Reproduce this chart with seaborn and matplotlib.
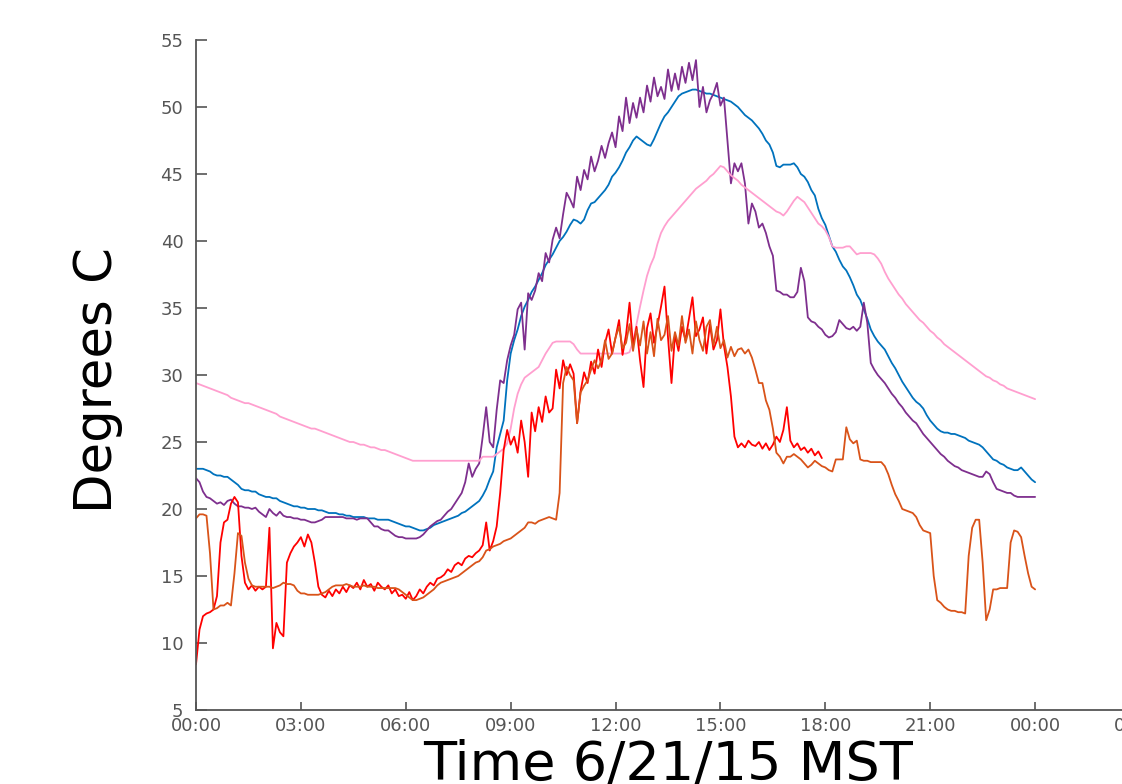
import pandas as pd
import matplotlib
matplotlib.use("Agg")
import matplotlib.pyplot as plt
import seaborn as sns

# readings every 6 minutes (0.1 h), starting at 00:00 on 6/21/15
step_h = 0.1

blue_temp = [
    23.0, 23.0, 23.0, 22.9, 22.8, 22.6, 22.5, 22.5, 22.4, 22.4,
    22.2, 22.0, 21.8, 21.5, 21.4, 21.4, 21.3, 21.3, 21.1, 21.0,
    20.9, 20.9, 20.8, 20.8, 20.6, 20.5, 20.4, 20.3, 20.2, 20.2,
    20.1, 20.1, 20.0, 20.0, 20.0, 19.9, 19.9, 19.8, 19.7, 19.7,
    19.7, 19.6, 19.6, 19.5, 19.5, 19.4, 19.4, 19.4, 19.4, 19.3,
    19.3, 19.3, 19.2, 19.2, 19.2, 19.2, 19.1, 19.0, 18.9, 18.8,
    18.7, 18.7, 18.6, 18.5, 18.4, 18.4, 18.5, 18.6, 18.8, 18.9,
    19.0, 19.1, 19.2, 19.3, 19.4, 19.5, 19.7, 19.8, 20.0, 20.2,
    20.4, 20.6, 21.0, 21.5, 22.2, 22.8, 24.6, 25.6, 26.6, 29.6,
    31.6, 32.6, 33.4, 34.4, 35.1, 35.6, 36.2, 36.6, 37.1, 37.6,
    38.2, 38.6, 39.0, 39.5, 40.0, 40.3, 40.7, 41.2, 41.6, 41.5,
    41.3, 41.6, 42.3, 42.8, 42.9, 43.2, 43.5, 43.8, 44.2, 44.8,
    45.1, 45.5, 46.0, 46.6, 47.0, 47.5, 47.8, 47.6, 47.4, 47.2,
    47.1, 47.6, 48.2, 48.8, 49.3, 49.6, 50.0, 50.4, 50.8, 51.0,
    51.1, 51.2, 51.3, 51.3, 51.2, 51.1, 51.0, 51.0, 50.9, 50.8,
    50.7, 50.6, 50.5, 50.4, 50.2, 50.0, 49.7, 49.4, 49.2, 49.0,
    48.7, 48.4, 48.0, 47.5, 47.2, 46.6, 45.6, 45.5, 45.7, 45.7,
    45.7, 45.8, 45.5, 45.0, 44.8, 44.4, 43.8, 43.4, 42.4, 41.7,
    41.2, 40.4, 39.6, 39.2, 38.6, 38.1, 37.8, 37.3, 36.7, 36.0,
    35.6, 34.9, 34.2, 33.4, 32.9, 32.5, 32.2, 31.9, 31.4, 30.9,
    30.5, 30.0, 29.5, 29.1, 28.7, 28.3, 28.0, 27.8, 27.5, 27.0,
    26.6, 26.3, 26.0, 25.8, 25.7, 25.7, 25.6, 25.6, 25.5, 25.4,
    25.3, 25.1, 25.0, 24.9, 24.8, 24.6, 24.3, 24.0, 23.7, 23.6,
    23.4, 23.3, 23.1, 23.0, 22.9, 22.9, 23.1, 22.8, 22.5, 22.2,
    22.0,
]

purple_temp = [
    22.3, 22.0, 21.3, 20.9, 20.8, 20.6, 20.4, 20.5, 20.3, 20.6,
    20.7, 20.4, 20.2, 20.2, 20.1, 20.1, 20.0, 20.1, 19.8, 19.6,
    19.4, 20.0, 19.7, 19.5, 19.8, 19.5, 19.4, 19.4, 19.3, 19.3,
    19.2, 19.2, 19.1, 19.0, 19.0, 19.1, 19.2, 19.4, 19.4, 19.4,
    19.4, 19.4, 19.4, 19.3, 19.3, 19.3, 19.2, 19.3, 19.3, 19.3,
    19.0, 18.7, 18.7, 18.5, 18.4, 18.4, 18.2, 18.0, 17.9, 17.9,
    17.8, 17.8, 17.8, 17.8, 17.9, 18.1, 18.4, 18.7, 18.9, 19.1,
    19.2, 19.5, 19.8, 20.0, 20.4, 20.8, 21.2, 22.0, 23.4, 22.4,
    23.0, 23.4, 25.4, 27.6, 25.0, 24.6, 27.4, 29.6, 29.4, 31.1,
    32.2, 33.0, 34.9, 35.4, 31.9, 36.1, 35.6, 36.3, 37.6, 37.0,
    39.1, 38.4, 40.1, 41.0, 40.2, 42.0, 43.6, 43.1, 42.5, 44.8,
    43.8, 45.3, 44.6, 46.3, 45.2, 46.0, 47.1, 46.2, 47.3, 48.1,
    47.0, 49.3, 48.2, 50.7, 48.8, 50.3, 49.2, 50.7, 49.6, 51.6,
    50.4, 52.2, 50.8, 51.5, 50.6, 52.8, 51.2, 52.5, 51.3, 53.0,
    51.8, 53.3, 52.0, 53.5, 50.0, 51.5, 49.6, 50.5, 51.0, 51.8,
    50.1, 50.7, 47.5, 44.3, 45.8, 45.2, 45.8, 44.3, 41.3, 42.8,
    42.2, 41.0, 41.3, 40.6, 39.6, 38.9, 36.3, 36.2, 36.0, 36.0,
    35.8, 35.8, 36.2, 38.0, 37.0, 34.3, 34.0, 33.9, 33.6, 33.4,
    33.0, 32.8, 32.9, 33.2, 34.1, 33.8, 33.5, 33.4, 33.6, 33.3,
    33.6, 35.4, 33.9, 30.9, 30.4, 30.0, 29.7, 29.4, 29.0, 28.6,
    28.3, 27.9, 27.6, 27.2, 26.9, 26.6, 26.4, 26.0, 25.6, 25.3,
    25.0, 24.7, 24.4, 24.1, 23.9, 23.6, 23.4, 23.2, 23.1, 22.9,
    22.8, 22.7, 22.6, 22.5, 22.4, 22.4, 22.8, 22.6, 22.0, 21.5,
    21.4, 21.3, 21.2, 21.2, 21.0, 20.9, 20.9, 20.9, 20.9, 20.9,
    20.9,
]

pink_temp = [
    29.4, 29.3, 29.2, 29.1, 29.0, 28.9, 28.8, 28.7, 28.6, 28.5,
    28.3, 28.2, 28.1, 28.0, 27.9, 27.9, 27.8, 27.7, 27.6, 27.5,
    27.4, 27.3, 27.2, 27.1, 26.9, 26.8, 26.7, 26.6, 26.5, 26.4,
    26.3, 26.2, 26.1, 26.0, 26.0, 25.9, 25.8, 25.7, 25.6, 25.5,
    25.4, 25.3, 25.2, 25.1, 25.0, 25.0, 24.9, 24.8, 24.8, 24.7,
    24.6, 24.6, 24.5, 24.4, 24.4, 24.3, 24.2, 24.1, 24.0, 23.9,
    23.8, 23.7, 23.6, 23.6, 23.6, 23.6, 23.6, 23.6, 23.6, 23.6,
    23.6, 23.6, 23.6, 23.6, 23.6, 23.6, 23.6, 23.6, 23.6, 23.6,
    23.6, 23.6, 23.9, 23.9, 23.9, 23.9, 24.1, 24.3, 24.5, 24.9,
    26.0, 27.5, 28.6, 29.3, 29.8, 30.0, 30.2, 30.4, 30.6, 31.1,
    31.6, 32.0, 32.4, 32.5, 32.5, 32.5, 32.5, 32.5, 32.3, 31.9,
    31.6, 31.6, 31.6, 31.6, 31.6, 31.6, 31.6, 31.6, 31.6, 31.6,
    31.6, 31.6, 31.6, 31.6, 31.7, 32.5, 33.8, 35.1, 36.3, 37.4,
    38.2, 38.8, 39.8, 40.6, 41.1, 41.5, 41.8, 42.1, 42.4, 42.7,
    43.0, 43.3, 43.6, 43.9, 44.1, 44.3, 44.5, 44.8, 45.0, 45.3,
    45.6, 45.5, 45.2, 44.9, 44.7, 44.5, 44.2, 44.0, 43.8, 43.6,
    43.4, 43.2, 43.0, 42.8, 42.6, 42.4, 42.2, 42.1, 41.9, 42.2,
    42.6, 43.0, 43.3, 43.1, 42.9, 42.5, 42.1, 41.7, 41.3, 41.1,
    40.8, 40.3, 39.6, 39.5, 39.5, 39.5, 39.6, 39.6, 39.3, 39.0,
    39.1, 39.1, 39.1, 39.1, 39.0, 38.7, 38.3, 37.7, 37.2, 36.8,
    36.4, 36.0, 35.7, 35.3, 35.0, 34.7, 34.4, 34.1, 33.9, 33.6,
    33.3, 33.1, 32.8, 32.6, 32.3, 32.1, 31.9, 31.7, 31.5, 31.3,
    31.1, 30.9, 30.7, 30.5, 30.3, 30.1, 29.9, 29.8, 29.6, 29.5,
    29.3, 29.2, 29.0, 28.9, 28.8, 28.7, 28.6, 28.5, 28.4, 28.3,
    28.2,
]

# this sensor stops logging just before 18:00
red_temp = [
    8.4, 11.0, 12.0, 12.2, 12.3, 12.5, 13.5, 17.5, 19.0, 19.2,
    20.4, 20.9, 20.5, 16.5, 14.5, 14.0, 14.3, 13.9, 14.2, 14.0,
    14.2, 18.6, 9.6, 11.5, 10.8, 10.5, 16.0, 16.7, 17.2, 17.5,
    17.9, 17.2, 18.1, 17.5, 16.0, 14.2, 13.6, 13.4, 13.9, 13.5,
    14.0, 13.7, 14.2, 13.8, 14.3, 14.1, 14.5, 14.0, 14.7, 14.2,
    14.4, 13.9, 14.5, 14.2, 14.0, 14.3, 13.7, 14.0, 13.5, 13.6,
    13.3, 13.8, 13.2, 13.5, 14.0, 13.7, 14.2, 14.5, 14.3, 14.8,
    14.9, 15.1, 15.5, 15.3, 15.8, 16.0, 15.8, 16.3, 16.5, 16.4,
    16.7, 16.9, 17.3, 19.0, 16.9, 17.6, 18.7, 21.2, 24.4, 25.9,
    24.8, 25.4, 24.2, 26.6, 25.0, 22.4, 27.2, 25.8, 27.6, 26.5,
    28.4, 27.2, 27.5, 30.4, 29.0, 31.1, 30.0, 30.8, 30.1, 26.4,
    28.8, 30.2, 29.4, 31.0, 30.1, 31.9, 30.6, 32.4, 33.4, 31.6,
    32.8, 34.1, 31.5, 33.0, 35.4, 32.2, 33.6, 31.1, 29.1, 33.5,
    34.6, 32.4, 33.7, 35.1, 36.6, 32.8, 29.4, 33.0, 31.8, 33.6,
    32.6, 34.2, 35.8, 32.9, 33.4, 34.3, 31.6, 33.8, 31.9, 32.6,
    34.9, 32.2, 30.6, 28.4, 25.4, 24.6, 24.9, 24.6, 25.1, 24.8,
    24.7, 25.0, 24.5, 24.9, 24.4, 24.8, 25.4, 25.0, 25.9, 27.6,
    25.1, 24.6, 24.9, 24.4, 24.6, 24.2, 24.5, 24.0, 24.3, 23.8,
]

orange_temp = [
    19.3, 19.6, 19.6, 19.5, 16.7, 12.5, 12.6, 12.8, 12.8, 13.0,
    12.8, 15.2, 18.2, 18.0, 16.0, 14.8, 14.3, 14.2, 14.2, 14.2,
    14.2, 14.2, 14.1, 14.2, 14.3, 14.5, 14.4, 14.4, 14.3, 13.9,
    13.7, 13.7, 13.6, 13.6, 13.6, 13.6, 13.7, 13.8, 14.0, 14.2,
    14.3, 14.3, 14.3, 14.4, 14.3, 14.2, 14.2, 14.2, 14.3, 14.2,
    14.2, 14.2, 14.1, 14.1, 14.1, 14.1, 14.1, 14.1, 14.0, 13.8,
    13.6, 13.4, 13.2, 13.2, 13.3, 13.4, 13.6, 13.8, 14.0, 14.3,
    14.5, 14.6, 14.7, 14.8, 14.9, 15.0, 15.2, 15.4, 15.6, 15.8,
    16.0, 16.1, 16.4, 16.9, 17.0, 17.2, 17.3, 17.4, 17.6, 17.7,
    17.8, 18.0, 18.2, 18.4, 18.6, 19.0, 19.0, 18.9, 19.1, 19.2,
    19.3, 19.4, 19.3, 19.2, 21.2, 29.4, 30.6, 30.0, 29.6, 26.4,
    28.7, 29.2, 29.6, 30.4, 31.1, 30.5, 31.1, 32.6, 31.2, 31.6,
    32.8, 33.6, 32.0, 32.4, 33.8, 31.8, 33.4, 32.2, 34.0, 31.6,
    33.2, 31.4, 34.2, 32.6, 33.0, 34.4, 31.8, 33.2, 32.2, 34.4,
    32.4, 33.4, 31.6, 34.0, 32.6, 31.8, 33.6, 34.1, 32.2, 33.6,
    32.0, 32.6, 31.3, 32.1, 31.4, 31.9, 32.0, 31.6, 31.9, 31.3,
    30.4, 29.4, 29.4, 28.1, 27.4, 26.0, 24.2, 23.9, 23.4, 23.9,
    23.9, 24.1, 23.9, 23.7, 23.4, 23.1, 23.3, 23.6, 23.4, 23.2,
    23.1, 22.9, 22.8, 23.7, 23.7, 23.7, 26.1, 25.2, 24.9, 25.1,
    23.7, 23.6, 23.6, 23.5, 23.5, 23.5, 23.5, 23.2, 22.6, 21.8,
    21.1, 20.6, 20.0, 19.9, 19.8, 19.7, 19.4, 18.8, 18.4, 18.3,
    18.2, 15.0, 13.2, 13.0, 12.7, 12.5, 12.4, 12.4, 12.3, 12.3,
    12.2, 16.5, 18.6, 19.2, 19.2, 16.0, 11.7, 12.5, 14.0, 14.0,
    14.1, 14.1, 14.1, 17.5, 18.4, 18.3, 17.9, 16.5, 15.2, 14.2,
    14.0,
]

sensor_names = ["sensor 1", "sensor 2", "sensor 3", "sensor 4", "sensor 5"]
sensor_temps = [blue_temp, purple_temp, pink_temp, red_temp, orange_temp]
sensor_colors = ["#0072BD", "#7E2F8E", "#FF9FCF", "#FF0000", "#D95319"]

tick_hours = [0, 3, 6, 9, 12, 15, 18, 21, 24, 27]
tick_labels = ["00:00", "03:00", "06:00", "09:00", "12:00", "15:00",
               "18:00", "21:00", "00:00", "03:00"]
y_ticks = [5, 10, 15, 20, 25, 30, 35, 40, 45, 50, 55]

rows = []
for name, temps in zip(sensor_names, sensor_temps):
    for i, t in enumerate(temps):
        rows.append((name, i * step_h, t))
df = pd.DataFrame(rows, columns=["sensor", "hour", "temp"])

sns.set_style("white")
plt.rcParams["font.family"] = ["DejaVu Sans"]

fig = plt.figure(figsize=(11.22, 7.84), dpi=100)
ax = fig.add_axes([196 / 1122, 74 / 784, 944 / 1122, 670 / 784])

sns.lineplot(data=df, x="hour", y="temp", hue="sensor",
             palette=dict(zip(sensor_names, sensor_colors)),
             estimator=None, sort=False, linewidth=1.3, legend=False, ax=ax)

ax.set_xlim(0, 27)
ax.set_ylim(5, 55)
ax.set_xticks(tick_hours)
ax.set_xticklabels(tick_labels)
ax.set_yticks(y_ticks)

for side in ["top", "right"]:
    ax.spines[side].set_visible(False)
for side in ["left", "bottom"]:
    ax.spines[side].set_color("#555555")
    ax.spines[side].set_linewidth(1.3)

ax.tick_params(axis="y", direction="in", length=8, width=1.2, color="#555555",
               labelsize=13, labelcolor="#555555", pad=9, left=True)
ax.tick_params(axis="x", direction="in", length=6, width=1.2, color="#555555",
               labelsize=13, labelcolor="#555555", pad=5, bottom=True)

ax.set_xlabel("Time 6/21/15 MST", fontsize=39, color="black")
ax.xaxis.set_label_coords(0.5, -0.043)
ax.set_ylabel("Degrees C", fontsize=37, color="black")
ax.yaxis.set_label_coords(-0.077, 0.493)

fig.savefig("out.png", dpi=100)
